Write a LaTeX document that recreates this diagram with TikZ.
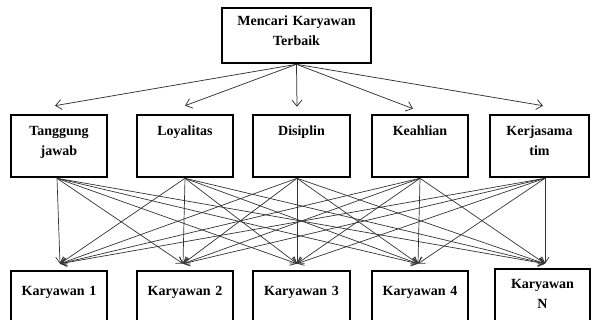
\documentclass[tikz,border=0pt]{standalone}
\usepackage{fontspec}
\setmainfont{Liberation Serif}
\usetikzlibrary{arrows.meta}

\begin{document}
\begin{tikzpicture}[
    x=1pt, y=-1pt,
    font=\fontsize{14}{20}\selectfont\bfseries,
    box/.style={draw, line width=2.6pt, inner sep=0pt, align=center},
    goal/.style={box, text width=149pt, text height=18pt, text depth=37pt},
    crit/.style={box, text width=96pt, text height=21pt, text depth=41pt},
    alt/.style={box, text width=96pt, text height=25pt, text depth=44pt},
    link/.style={-{Straight Barb[length=6pt,width=10pt]}, line width=0.75pt, draw=black!80},
    fan/.style={-{Straight Barb[length=6pt,width=8pt]}, line width=0.7pt, draw=black!80},
  ]

  % page frame (the bottom row runs past the lower edge)
  \clip (0,0) rectangle (592,320);

  % --- Goal ---------------------------------------------------------------
  \node[goal] (goal) at (296.5,35.5) {Mencari Karyawan\\Terbaik};

  % --- Criteria -----------------------------------------------------------
  \node[crit] (c1) at ( 59,  146) {Tanggung\\jawab};
  \node[crit] (c2) at (185,  146) {Loyalitas};
  \node[crit, text width=97pt] (c3) at (301.5,146) {Disiplin};
  \node[crit] (c4) at (420,  146) {Keahlian};
  \node[crit, text width=99pt] (c5) at (539.5,146) {Kerjasama\\tim};

  % --- Alternatives -------------------------------------------------------
  \node[alt] (k1) at ( 59,  305.5) {Karyawan 1};
  \node[alt] (k2) at (185,  305.5) {Karyawan 2};
  \node[alt, text width=97pt] (k3) at (301.5,305.5) {Karyawan 3};
  \node[alt] (k4) at (420,  305.5) {Karyawan 4};
  \node[alt, text width=95pt, text height=20pt, text depth=51pt] (k5) at (542.5,304.5) {Karyawan\\N};

  % --- Arrows -------------------------------------------------------------
  \draw[link] (goal.south) -- ([xshift=-4pt, yshift=8pt]c1.north);
  \draw[link] (goal.south) -- ([yshift=8pt]c2.north);
  \draw[link] (goal.south) -- ([xshift=-4.5pt, yshift=7pt]c3.north);
  \draw[link] (goal.south) -- ([xshift=-7pt, yshift=5pt]c4.north);
  \draw[link] (goal.south) -- ([xshift=3.5pt, yshift=8pt]c5.north);

  % every criterion feeds every alternative
  \foreach \s/\ds in {c1/-2, c2/0, c3/-4.5, c4/0, c5/5.5}
    \foreach \t/\dt/\dy in {k1/1/6, k2/-2/6, k3/-4.5/6, k4/-2/6, k5/2.5/4}
      \draw[fan] ([xshift=\ds pt]\s.south) -- ([xshift=\dt pt, yshift=\dy pt]\t.north);

\end{tikzpicture}
\end{document}
